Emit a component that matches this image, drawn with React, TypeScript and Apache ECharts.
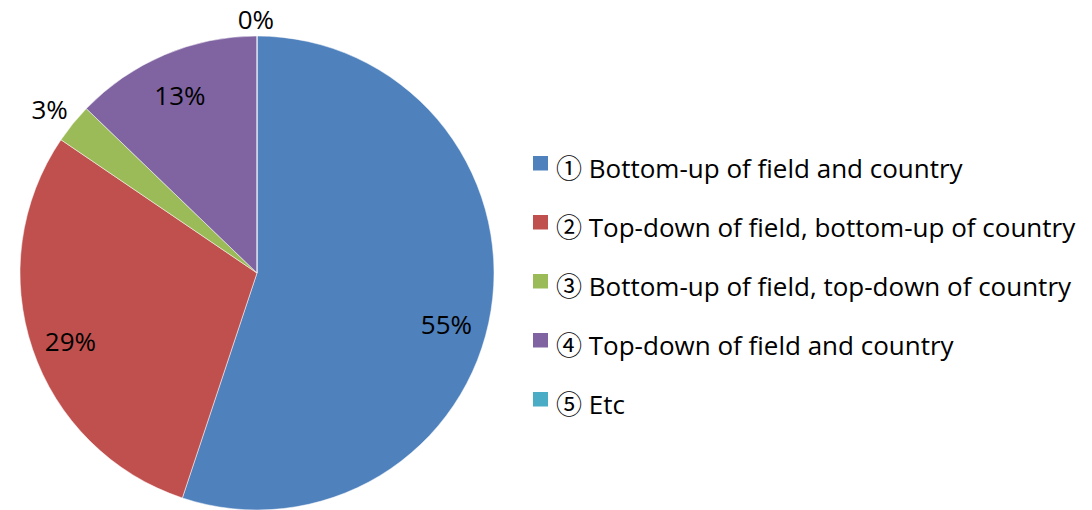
import React, { useEffect, useRef } from "react";
import * as echarts from "echarts";

const categories = [
  "① Bottom-up of field and country",
  "② Top-down of field, bottom-up of country",
  "③ Bottom-up of field, top-down of country",
  "④ Top-down of field and country",
  "⑤ Etc",
];
const values = [55.1, 29.4, 2.7, 12.8, 0];
const colors = ["#4F81BD", "#C0504D", "#9BBB59", "#8064A2", "#4BACC6"];
const outsideLabel = [false, false, true, false, true];

const FONT = "'Open Sans', 'Noto Sans CJK KR', sans-serif";

function markerIcon(color: string) {
  const svg =
    "<svg xmlns='http://www.w3.org/2000/svg' width='15' height='24'>" +
    "<rect x='0' y='0' width='15' height='15' fill='" +
    color +
    "'/></svg>";
  return "image://data:image/svg+xml;charset=utf-8," + encodeURIComponent(svg);
}

export default function App() {
  const ref = useRef<HTMLDivElement>(null);
  useEffect(() => {
    const chart = echarts.init(ref.current!, null, { renderer: "svg" });
    const center = [257, 273];
    const R = 237;
    const nudges: Record<number, { dx: number; dy: number }> = {
      0: { dx: -5, dy: 20 },
      1: { dx: 0, dy: 5 },
      2: { dx: 6, dy: -10 },
      3: { dx: 0, dy: 3 },
      4: { dx: 22, dy: -9 },
    };
    chart.setOption({
      animation: false,
      color: colors,
      textStyle: { fontFamily: FONT },
      legend: {
        orient: "vertical",
        left: 528,
        top: 148,
        itemWidth: 15,
        itemHeight: 24,
        itemGap: 30,
        data: categories.map((name, i) => ({ name, icon: markerIcon(colors[i]) })),
        textStyle: {
          fontFamily: FONT,
          fontSize: 26,
          color: "#000",
          lineHeight: 29,
          padding: [0, 0, 0, 3],
        },
      },
      series: [
        {
          type: "pie",
          center,
          radius: [0, R],
          startAngle: 90,
          clockwise: true,
          silent: true,
          label: { show: false },
          labelLine: { show: false },
          itemStyle: { borderColor: "#fff", borderWidth: 0.5 },
          data: categories.map((name, i) => ({ name, value: values[i] })),
        },
        {
          type: "pie",
          center,
          radius: [151, R],
          startAngle: 90,
          clockwise: true,
          silent: true,
          avoidLabelOverlap: false,
          stillShowZeroSum: true,
          percentPrecision: 0,
          itemStyle: { color: "rgba(0,0,0,0)" },
          labelLine: { show: false, length: 8, length2: 0 },
          label: {
            show: true,
            formatter: "{d}%",
            fontFamily: FONT,
            fontSize: 26,
            color: "#000",
          },
          labelLayout: (p: any) => nudges[p.dataIndex] || {},
          data: categories.map((name, i) => ({
            name,
            value: values[i],
            label: { position: outsideLabel[i] ? "outside" : "inside" },
          })),
        },
      ],
    });
    return () => chart.dispose();
  }, []);
  return (
    <div
      ref={ref}
      style={{ position: "absolute", left: 0, top: 0, width: 1092, height: 510 }}
    />
  );
}
